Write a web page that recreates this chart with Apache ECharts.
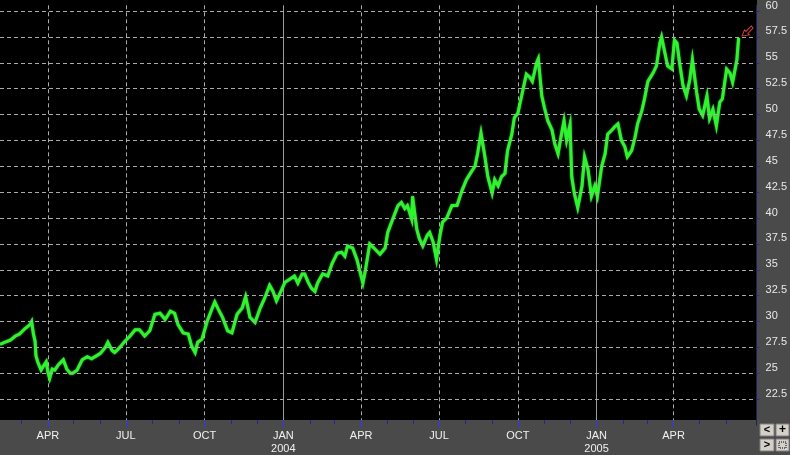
<!DOCTYPE html>
<html><head><meta charset="utf-8">
<script src="https://cdn.jsdelivr.net/npm/echarts@6/dist/echarts.min.js"></script>
<style>html,body{margin:0;padding:0;background:#4a4a4a}#c{width:790px;height:455px}</style>
</head><body><div id="c"></div><script>
// x domain: calendar days shown on the axis
const axisStart = '2003-02-04';
const axisEnd = '2005-07-07';
const lastMarkedMonth = '2005-06-30';
// price readings: day offset from axisStart and price
const dayOffsets = [
 0,6,12,18,23,29,35,37,39,41,42,44,48,50,54,56,58,61,64,68,74,78,82,85,90,96,102,107,113,117,123,126,131,134,140,146,152,
 158,163,169,175,181,187,193,199,204,208,214,220,224,228,231,236,242,248,251,255,260,266,271,277,283,287,292,298,304,309,
 315,319,323,327,333,339,344,348,353,356,360,364,368,371,377,383,388,394,399,403,406,412,417,420,424,427,432,438,444,450,453,458,
 465,469,473,476,481,482,487,490,494,499,502,506,510,514,517,522,528,534,540,545,551,555,558,562,566,570,575,578,582,586,590,593,598,601,605,610,
 615,619,622,627,629,633,636,640,645,648,652,656,659,662,666,668,671,675,680,683,687,691,695,698,703,707,710,715,718,722,726,730,733,738,742,745,750,753,757,
 763,767,771,773,777,780,785,788,791,794,798,802,806,809,814,817,821,826,829,833,837,841,844,849,853,856,861,863
];
const prices = [
 27.8,28.0,28.2,28.6,28.8,29.3,29.7,30.0,28.8,28.1,26.7,26.1,25.3,25.6,26.1,25.1,24.5,25.4,25.3,25.8,26.3,25.4,25.0,25.0,25.3,26.3,26.6,26.4,26.7,26.9,27.5,28.0,27.2,27.0,27.5,28.1,28.6,
 29.2,29.2,28.6,29.1,30.7,30.8,30.2,31.0,30.8,29.7,28.9,28.8,27.6,27.0,28.0,28.3,30.0,31.3,31.9,31.2,30.4,29.1,28.9,30.7,31.3,32.4,30.4,29.9,31.3,32.2,
 33.5,32.9,32.0,32.7,33.8,34.1,34.4,33.7,34.6,34.6,33.8,33.2,32.9,33.7,34.6,34.4,35.6,36.6,36.7,36.3,37.3,37.1,36.0,35.0,33.7,35.0,37.5,37.0,36.5,37.1,38.6,39.7,
 41.2,41.5,40.9,41.2,39.9,42.1,38.9,38.0,37.3,38.3,38.6,37.7,36.0,38.3,39.6,40.0,41.2,41.2,42.7,43.7,44.5,45.0,46.2,48.2,46.2,44.0,42.4,43.7,43.1,44.0,44.3,46.5,48.1,49.7,50.1,52.0,
 53.9,53.6,53.2,55.0,55.4,51.8,50.7,49.4,48.5,47.2,46.2,48.1,49.4,47.5,49.0,44.0,42.4,41.0,43.1,45.9,44.7,42.1,43.1,42.1,45.0,46.2,48.1,48.5,48.8,49.1,47.5,46.9,45.9,46.5,47.8,49.1,50.4,51.5,53.2,
 54.0,54.7,56.9,57.5,55.9,54.7,54.4,57.2,56.9,55.0,52.8,51.8,53.4,55.3,52.1,50.5,49.9,51.8,49.6,50.5,48.9,51.2,51.5,54.4,54.0,53.1,55.3,57.4
];
const monthNames = ['JAN','FEB','MAR','APR','MAY','JUN','JUL','AUG','SEP','OCT','NOV','DEC'];
const labelMonths = [1,4,7,10];
const yMin = 20, yMax = 60.55, yStep = 2.5;

function fmt(t){const d=new Date(t);return d.getUTCFullYear()+'-'+String(d.getUTCMonth()+1).padStart(2,'0')+'-'+String(d.getUTCDate()).padStart(2,'0');}
const days=[];
for(let t=Date.parse(axisStart+'T00:00:00Z');t<=Date.parse(axisEnd+'T00:00:00Z');t+=86400000) days.push(fmt(t));
const seriesData = prices.map((v,i)=>[dayOffsets[i], v]);
const mon = v=>+v.slice(5,7);
const isFirst = v=>v.slice(8,10)==='01' && v<=lastMarkedMonth;
const isQuarter = v=>isFirst(v)&&labelMonths.indexOf(mon(v))>=0;
const isQuarterNonJan = v=>isQuarter(v)&&mon(v)!==1;
const isJan = v=>isFirst(v)&&mon(v)===1;

const baseX = {type:'category',data:days,boundaryGap:false,position:'bottom',offset:-5,
  axisLine:{show:false},axisTick:{show:false},axisLabel:{show:false},splitLine:{show:false}};
const chart = echarts.init(document.getElementById('c'),null,{renderer:'canvas'});
chart.setOption({
  backgroundColor:'#4a4a4a',
  animation:false,
  textStyle:{fontFamily:'Liberation Sans, Arial, sans-serif'},
  grid:{left:0,right:33,top:0,bottom:30,containLabel:false},
  graphic:[
    {type:'rect',z:-5,shape:{x:0,y:0,width:757,height:420},style:{fill:'#000'}},
    {type:'rect',z:3,shape:{x:0,y:420,width:757,height:6},style:{fill:'#4a4a4a'}},
    {type:'group',z:10,children:[
      {type:'rect',shape:{x:760,y:424,width:14,height:12},style:{fill:'#d4d0c8',stroke:'#808080',lineWidth:1}},
      {type:'text',style:{x:767,y:430,text:'<',fill:'#000',font:'bold 11px Liberation Sans',align:'center',verticalAlign:'middle'}},
      {type:'rect',shape:{x:776,y:424,width:13,height:12},style:{fill:'#d4d0c8',stroke:'#808080',lineWidth:1}},
      {type:'text',style:{x:782.5,y:430,text:'+',fill:'#000',font:'bold 12px Liberation Sans',align:'center',verticalAlign:'middle'}},
      {type:'rect',shape:{x:760,y:439,width:14,height:12},style:{fill:'#d4d0c8',stroke:'#808080',lineWidth:1}},
      {type:'text',style:{x:767,y:445,text:'>',fill:'#000',font:'bold 11px Liberation Sans',align:'center',verticalAlign:'middle'}},
      {type:'rect',shape:{x:776,y:439,width:13,height:12},style:{fill:'#d4d0c8',stroke:'#808080',lineWidth:1}},
      {type:'rect',shape:{x:779,y:442,width:7,height:6},style:{fill:'none',stroke:'#000',lineWidth:1,lineDash:[1,1]}}
    ]}
  ],
  xAxis:[
    Object.assign({},baseX,{z:1,splitLine:{show:true,interval:(i,v)=>isQuarterNonJan(v),lineStyle:{color:'#aaaaaa',width:1,type:[4,3]}}}),
    Object.assign({},baseX,{z:1,splitLine:{show:true,interval:(i,v)=>isJan(v),lineStyle:{color:'#9a9a9a',width:1,type:'solid'}}}),
    Object.assign({},baseX,{z:6,axisTick:{show:true,interval:(i,v)=>isFirst(v),length:4,lineStyle:{color:'#24249a',width:1}}}),
    Object.assign({},baseX,{z:6,axisTick:{show:true,interval:(i,v)=>isQuarter(v),length:7,lineStyle:{color:'#3434ff',width:1}},
      axisLabel:{show:true,interval:(i,v)=>isQuarter(v),color:'#f0f0f0',fontSize:11,margin:9,lineHeight:13,
        fontFamily:'Liberation Sans, Arial, sans-serif',
        formatter:v=>{const m=mon(v);return m===1?monthNames[0]+'\n'+v.slice(0,4):monthNames[m-1];}}})
  ],
  yAxis:{type:'value',position:'right',min:yMin,max:yMax,interval:yStep,z:6,
    axisLine:{show:true,lineStyle:{color:'#1e1e5a',width:1}},
    axisTick:{show:true,length:3,lineStyle:{color:'#2a2aa0'}},
    axisLabel:{color:'#e8e8e8',fontSize:11,margin:9,verticalAlign:'bottom',showMinLabel:false,showMaxLabel:false,
      fontFamily:'Liberation Sans, Arial, sans-serif',formatter:v=>String(v)},
    splitLine:{show:true,showMinLine:false,showMaxLine:false,lineStyle:{color:'#aaaaaa',width:1,type:[4,3]}}
  },
  series:[{
    type:'line',xAxisIndex:0,yAxisIndex:0,data:seriesData,showSymbol:false,z:2,
    lineStyle:{color:'#2cf52c',width:3,join:'miter',shadowColor:'rgba(120,255,120,0.7)',shadowBlur:2},
    markPoint:{silent:true,data:[{coord:seriesData[seriesData.length-1],
      symbol:'path://M0,10 L2.5,4 L4,5.5 L9.5,0 L11.5,2 L6,7.5 L7.5,9 Z',symbolSize:[11,10],symbolOffset:[9,-7],
      itemStyle:{color:'rgba(0,0,0,0)',borderColor:'#d04040',borderWidth:1},label:{show:false}}]}
  }]
});
</script></body></html>
